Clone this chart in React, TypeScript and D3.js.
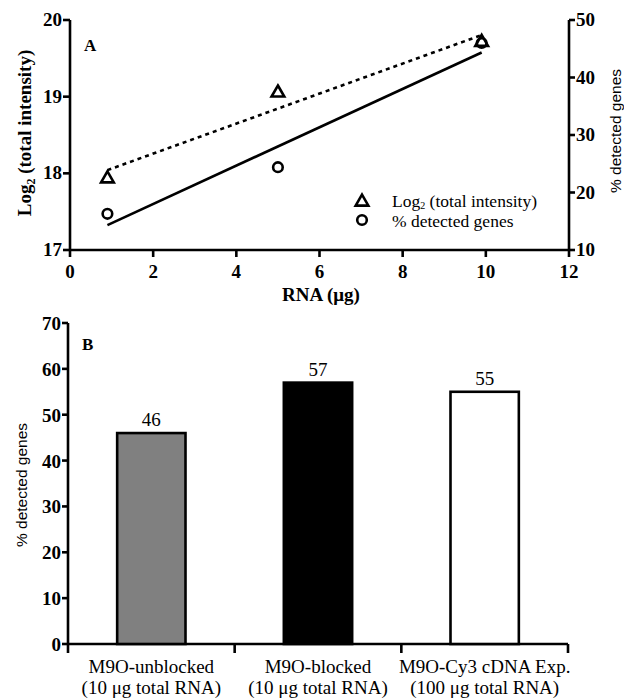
import React from "react";
import * as d3 from "d3";

// panel A: RNA input vs signal
const rnaAmount = [0.9, 5, 9.9];
const logIntensity = [17.93, 19.05, 19.71];
const pctDetected = [16.3, 24.4, 46];
const xTicksA = [0, 2, 4, 6, 8, 10, 12];
const yTicksLeftA = [17, 18, 19, 20];
const yTicksRightA = [10, 20, 30, 40, 50];

// panel B: detected genes per protocol
const categories = ["M9O-unblocked", "M9O-blocked", "M9O-Cy3 cDNA Exp."];
const subLabels = ["(10 μg total RNA)", "(10 μg total RNA)", "(100 μg total RNA)"];
const pctBars = [46, 57, 55];
const yTicksB = [0, 10, 20, 30, 40, 50, 60, 70];

const serif = { fontFamily: "Liberation Serif, DejaVu Serif, serif" };
const sans = { fontFamily: "Liberation Sans, DejaVu Sans, sans-serif" };

// least squares fit, used for the two trend lines
function fit(xs: number[], ys: number[]) {
  const mx = d3.mean(xs)!;
  const my = d3.mean(ys)!;
  const sxy = d3.sum(xs, (x, i) => (x - mx) * (ys[i] - my));
  const sxx = d3.sum(xs, (x) => (x - mx) ** 2);
  const slope = sxy / sxx;
  return (x: number) => my + slope * (x - mx);
}

const App = () => {
  const xA = d3.scaleLinear().domain([0, 12]).range([70, 569]);
  const yL = d3.scaleLinear().domain([17, 20]).range([250, 20]);
  const yR = d3.scaleLinear().domain([10, 50]).range([250, 20]);

  const fitL = fit(rnaAmount, logIntensity);
  const fitR = fit(rnaAmount, pctDetected);
  const x0 = d3.min(rnaAmount)!;
  const x1 = d3.max(rnaAmount)!;
  const dashedLine = d3.line<number>().x((d) => xA(d)).y((d) => yL(fitL(d)));
  const solidLine = d3.line<number>().x((d) => xA(d)).y((d) => yR(fitR(d)));

  const triangle = d3.symbol().type(d3.symbolTriangle).size(70)()!;

  const xB = d3.scaleBand<string>().domain(categories).range([68, 568]);
  const yB = d3.scaleLinear().domain([0, 70]).range([644, 323]);
  const barW = xB.bandwidth() * 0.41;
  const fills = ["#808080", "#000000", "#ffffff"];
  const bandEdges = [...categories.map((c) => xB(c)!), 568];

  const sw = 2.6;
  const tickFont = 19;

  return (
    <svg
      width={624}
      height={700}
      style={{ position: "absolute", left: 0, top: 0, background: "#fff" }}
    >
      {/* ---------- panel A ---------- */}
      <g>
        <line x1={70} x2={569} y1={250} y2={250} stroke="#000" strokeWidth={sw} />
        <line x1={70} x2={70} y1={20} y2={250} stroke="#000" strokeWidth={sw} />
        <line x1={569} x2={569} y1={20} y2={250} stroke="#000" strokeWidth={sw} />
        {xTicksA.map((t) => (
          <g key={"xa" + t}>
            <line x1={xA(t)} x2={xA(t)} y1={250} y2={257} stroke="#000" strokeWidth={sw} />
            <text x={xA(t)} y={278} textAnchor="middle" style={serif} fontWeight="bold" fontSize={tickFont}>
              {t}
            </text>
          </g>
        ))}
        {yTicksLeftA.map((t) => (
          <g key={"yl" + t}>
            <line x1={63} x2={70} y1={yL(t)} y2={yL(t)} stroke="#000" strokeWidth={sw} />
            <text x={62} y={yL(t) + 6} textAnchor="end" style={serif} fontWeight="bold" fontSize={tickFont}>
              {t}
            </text>
          </g>
        ))}
        {yTicksRightA.map((t) => (
          <g key={"yr" + t}>
            <line x1={569} x2={575} y1={yR(t)} y2={yR(t)} stroke="#000" strokeWidth={sw} />
            <text x={576} y={yR(t) + 6} textAnchor="start" style={serif} fontWeight="bold" fontSize={tickFont}>
              {t}
            </text>
          </g>
        ))}
        <text x={321} y={301} textAnchor="middle" style={serif} fontWeight="bold" fontSize={19}>
          RNA (μg)
        </text>
        <text
          transform="translate(31,133) rotate(-90)"
          textAnchor="middle"
          style={serif}
          fontWeight="bold"
          fontSize={19}
        >
          Log
          <tspan fontSize={12} dy={4}>2</tspan>
          <tspan dy={-4}> (total intensity)</tspan>
        </text>
        <text transform="translate(621,131) rotate(-90)" textAnchor="middle" style={sans} fontSize={15.5}>
          % detected genes
        </text>
        <text x={84} y={51} style={serif} fontWeight="bold" fontSize={17}>
          A
        </text>

        <path
          d={dashedLine([x0, x1]) ?? ""}
          fill="none"
          stroke="#000"
          strokeWidth={sw}
          strokeDasharray="4,4"
        />
        <path d={solidLine([x0, x1]) ?? ""} fill="none" stroke="#000" strokeWidth={sw} />

        {rnaAmount.map((x, i) => (
          <path
            key={"tri" + i}
            d={triangle}
            transform={`translate(${xA(x)},${yL(logIntensity[i])})`}
            fill="none"
            stroke="#000"
            strokeWidth={sw}
          />
        ))}
        {rnaAmount.map((x, i) => (
          <circle
            key={"cir" + i}
            cx={xA(x)}
            cy={yR(pctDetected[i])}
            r={4.8}
            fill="none"
            stroke="#000"
            strokeWidth={sw}
          />
        ))}

        {/* legend */}
        <path d={triangle} transform="translate(362,202)" fill="none" stroke="#000" strokeWidth={sw} />
        <text x={392} y={207} style={serif} fontSize={17.5}>
          Log
          <tspan fontSize={10} dy={2}>2</tspan>
          <tspan dy={-2}> (total intensity)</tspan>
        </text>
        <circle cx={362} cy={220} r={4.8} fill="none" stroke="#000" strokeWidth={sw} />
        <text x={392} y={227} style={serif} fontSize={17.5}>
          % detected genes
        </text>
      </g>

      {/* ---------- panel B ---------- */}
      <g>
        <line x1={68} x2={68} y1={323} y2={644} stroke="#000" strokeWidth={sw} />
        <line x1={68} x2={568} y1={644} y2={644} stroke="#000" strokeWidth={sw} />
        {yTicksB.map((t) => (
          <g key={"yb" + t}>
            <line x1={62} x2={68} y1={yB(t)} y2={yB(t)} stroke="#000" strokeWidth={sw} />
            <text x={61} y={yB(t) + 7} textAnchor="end" style={serif} fontWeight="bold" fontSize={tickFont}>
              {t}
            </text>
          </g>
        ))}
        {bandEdges.map((x, i) => (
          <line key={"be" + i} x1={x} x2={x} y1={644} y2={653} stroke="#000" strokeWidth={sw} />
        ))}
        {categories.map((c, i) => {
          const cx = xB(c)! + xB.bandwidth() / 2;
          return (
            <g key={c}>
              <rect
                x={cx - barW / 2}
                y={yB(pctBars[i])}
                width={barW}
                height={yB(0) - yB(pctBars[i])}
                fill={fills[i]}
                stroke="#000"
                strokeWidth={sw}
              />
              <text x={cx} y={yB(pctBars[i]) - 7} textAnchor="middle" style={serif} fontSize={19}>
                {pctBars[i]}
              </text>
              <text x={cx} y={673} textAnchor="middle" style={serif} fontSize={19}>
                {c}
              </text>
              <text x={cx} y={694} textAnchor="middle" style={serif} fontSize={19}>
                {subLabels[i]}
              </text>
            </g>
          );
        })}
        <text transform="translate(27,485) rotate(-90)" textAnchor="middle" style={sans} fontSize={15.5}>
          % detected genes
        </text>
        <text x={82} y={350} style={serif} fontWeight="bold" fontSize={17}>
          B
        </text>
      </g>
    </svg>
  );
};

export default App;
